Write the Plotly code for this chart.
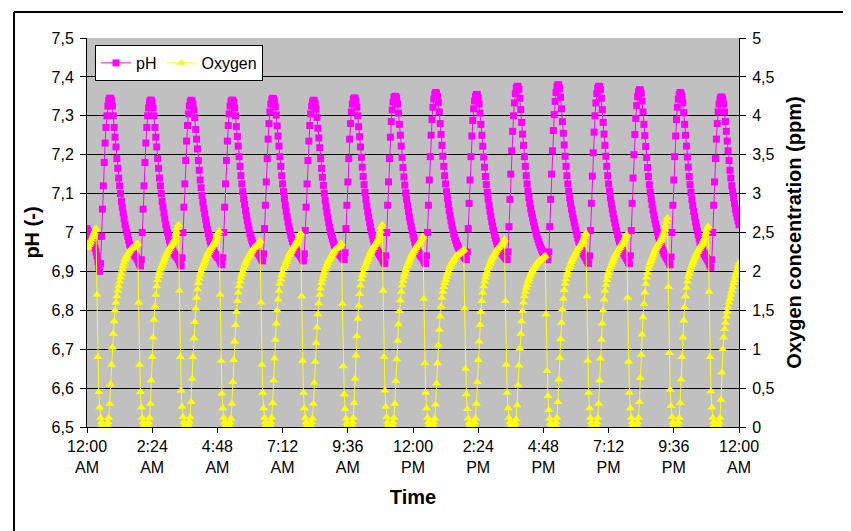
import plotly.graph_objects as go

SAMPLE_MIN = 2  # one reading every 2 minutes, starting at midnight

# pH readings (one line per ~90 min aeration cycle)
ph = [
    7.01, 7.005, 7.0, 6.995, 6.99, 6.985, 6.98, 6.975, 6.97, 6.96, 6.95, 6.94, 6.925, 6.91,
    6.90, 6.92, 6.99, 7.06, 7.12, 7.18, 7.23, 7.27, 7.30, 7.325, 7.34, 7.345, 7.345, 7.34, 7.325, 7.30, 7.27, 7.245, 7.22, 7.19, 7.165, 7.14, 7.12, 7.10, 7.08, 7.065, 7.05, 7.035, 7.02, 7.01, 7.0, 6.99, 6.98, 6.97, 6.965, 6.958, 6.952, 6.947, 6.943, 6.94, 6.937, 6.934, 6.93, 6.924, 6.918,
    6.914, 6.93, 7.0, 7.06, 7.12, 7.18, 7.23, 7.27, 7.30, 7.32, 7.335, 7.34, 7.34, 7.335, 7.32, 7.30, 7.27, 7.245, 7.22, 7.19, 7.165, 7.14, 7.12, 7.10, 7.08, 7.065, 7.05, 7.035, 7.02, 7.01, 7.0, 6.99, 6.98, 6.97, 6.965, 6.958, 6.952, 6.947, 6.943, 6.94, 6.937, 6.934, 6.93, 6.924, 6.918,
    6.914, 6.935, 7.0, 7.065, 7.125, 7.185, 7.235, 7.275, 7.305, 7.325, 7.336, 7.34, 7.338, 7.33, 7.315, 7.295, 7.265, 7.24, 7.215, 7.185, 7.16, 7.135, 7.115, 7.095, 7.078, 7.062, 7.048, 7.033, 7.02, 7.008, 6.998, 6.988, 6.978, 6.97, 6.963, 6.957, 6.952, 6.947, 6.943, 6.94, 6.937, 6.935, 6.932, 6.926, 6.921,
    6.917, 6.935, 7.0, 7.065, 7.125, 7.185, 7.235, 7.275, 7.305, 7.325, 7.337, 7.34, 7.34, 7.335, 7.32, 7.30, 7.272, 7.247, 7.222, 7.195, 7.17, 7.146, 7.125, 7.105, 7.087, 7.072, 7.057, 7.043, 7.03, 7.018, 7.007, 6.997, 6.988, 6.98, 6.973, 6.967, 6.962, 6.957, 6.953, 6.95, 6.947, 6.944, 6.94, 6.935, 6.93,
    6.927, 6.945, 7.01, 7.07, 7.13, 7.19, 7.24, 7.28, 7.31, 7.33, 7.341, 7.345, 7.344, 7.338, 7.323, 7.302, 7.274, 7.248, 7.222, 7.195, 7.17, 7.146, 7.125, 7.105, 7.087, 7.07, 7.055, 7.04, 7.027, 7.015, 7.004, 6.994, 6.985, 6.977, 6.97, 6.964, 6.959, 6.955, 6.951, 6.948, 6.945, 6.942, 6.939, 6.935, 6.93,
    6.927, 6.945, 7.005, 7.065, 7.125, 7.185, 7.235, 7.275, 7.305, 7.325, 7.336, 7.34, 7.339, 7.332, 7.317, 7.296, 7.268, 7.243, 7.218, 7.19, 7.165, 7.142, 7.121, 7.101, 7.083, 7.067, 7.052, 7.038, 7.025, 7.013, 7.002, 6.993, 6.984, 6.976, 6.969, 6.963, 6.958, 6.954, 6.95, 6.947, 6.944, 6.941, 6.938, 6.935, 6.932,
    6.93, 6.948, 7.01, 7.07, 7.13, 7.19, 7.24, 7.28, 7.31, 7.33, 7.342, 7.346, 7.345, 7.338, 7.322, 7.3, 7.272, 7.246, 7.22, 7.193, 7.168, 7.144, 7.123, 7.103, 7.085, 7.068, 7.053, 7.039, 7.026, 7.014, 7.003, 6.993, 6.984, 6.976, 6.969, 6.963, 6.957, 6.952, 6.948, 6.944, 6.94, 6.937, 6.933, 6.927, 6.923,
    6.92, 6.94, 7.0, 7.07, 7.13, 7.19, 7.245, 7.285, 7.315, 7.335, 7.347, 7.35, 7.35, 7.345, 7.33, 7.307, 7.278, 7.25, 7.222, 7.193, 7.167, 7.143, 7.122, 7.102, 7.085, 7.069, 7.054, 7.04, 7.028, 7.016, 7.005, 6.995, 6.985, 6.976, 6.968, 6.961, 6.955, 6.95, 6.946, 6.942, 6.939, 6.936, 6.932, 6.927, 6.923,
    6.92, 6.94, 7.0, 7.07, 7.135, 7.195, 7.25, 7.29, 7.322, 7.343, 7.355, 7.36, 7.358, 7.35, 7.334, 7.31, 7.28, 7.252, 7.224, 7.196, 7.17, 7.146, 7.125, 7.105, 7.088, 7.072, 7.057, 7.043, 7.03, 7.018, 7.007, 6.997, 6.988, 6.98, 6.973, 6.967, 6.962, 6.957, 6.953, 6.949, 6.946, 6.943, 6.94, 6.936, 6.933,
    6.93, 6.95, 7.01, 7.075, 7.135, 7.195, 7.248, 7.288, 7.318, 7.338, 7.35, 7.355, 7.354, 7.346, 7.33, 7.307, 7.278, 7.25, 7.222, 7.194, 7.168, 7.144, 7.123, 7.103, 7.086, 7.07, 7.055, 7.041, 7.028, 7.016, 7.005, 6.995, 6.986, 6.978, 6.971, 6.965, 6.96, 6.955, 6.951, 6.947, 6.944, 6.941, 6.938, 6.935, 6.932,
    6.93, 6.95, 7.015, 7.085, 7.15, 7.21, 7.26, 7.3, 7.333, 7.357, 7.371, 7.376, 7.375, 7.368, 7.345, 7.316, 7.283, 7.253, 7.224, 7.195, 7.17, 7.146, 7.125, 7.106, 7.09, 7.075, 7.061, 7.049, 7.038, 7.027, 7.017, 7.007, 6.998, 6.99, 6.982, 6.975, 6.968, 6.962, 6.956, 6.951, 6.947, 6.944, 6.94, 6.936, 6.933,
    6.93, 6.95, 7.015, 7.085, 7.15, 7.21, 7.262, 7.303, 7.337, 7.36, 7.375, 7.38, 7.379, 7.37, 7.348, 7.318, 7.285, 7.255, 7.225, 7.196, 7.17, 7.146, 7.125, 7.106, 7.089, 7.074, 7.06, 7.048, 7.037, 7.026, 7.015, 7.005, 6.995, 6.986, 6.978, 6.97, 6.963, 6.957, 6.951, 6.946, 6.942, 6.938, 6.934, 6.928, 6.924,
    6.92, 6.94, 7.005, 7.075, 7.145, 7.205, 7.258, 7.3, 7.333, 7.357, 7.371, 7.376, 7.375, 7.367, 7.345, 7.316, 7.283, 7.253, 7.224, 7.196, 7.17, 7.146, 7.125, 7.106, 7.089, 7.074, 7.06, 7.048, 7.036, 7.025, 7.014, 7.004, 6.994, 6.985, 6.977, 6.969, 6.962, 6.956, 6.95, 6.945, 6.941, 6.937, 6.933, 6.928, 6.923,
    6.92, 6.94, 7.005, 7.075, 7.14, 7.2, 7.252, 7.293, 7.326, 7.349, 7.362, 7.367, 7.366, 7.358, 7.338, 7.31, 7.278, 7.249, 7.221, 7.193, 7.167, 7.144, 7.123, 7.104, 7.087, 7.072, 7.058, 7.045, 7.033, 7.022, 7.011, 7.001, 6.991, 6.982, 6.974, 6.967, 6.96, 6.954, 6.948, 6.943, 6.939, 6.935, 6.931, 6.926, 6.921,
    6.917, 6.937, 7.0, 7.07, 7.135, 7.195, 7.248, 7.29, 7.322, 7.343, 7.355, 7.36, 7.358, 7.35, 7.333, 7.308, 7.278, 7.25, 7.222, 7.194, 7.168, 7.144, 7.123, 7.103, 7.085, 7.069, 7.054, 7.04, 7.027, 7.015, 7.004, 6.994, 6.984, 6.975, 6.967, 6.96, 6.954, 6.948, 6.943, 6.939, 6.935, 6.931, 6.927, 6.921, 6.915,
    6.91, 6.93, 7.0, 7.07, 7.13, 7.19, 7.24, 7.28, 7.31, 7.33, 7.343, 7.348, 7.348, 7.343, 7.33, 7.31, 7.285, 7.26, 7.235, 7.21, 7.185, 7.16, 7.14, 7.12, 7.105, 7.09, 7.075, 7.06, 7.05, 7.04, 7.03, 7.02,
]

# Oxygen concentration readings (ppm), same timestamps
oxygen = [
    2.3, 2.32, 2.34, 2.36, 2.38, 2.41, 2.44, 2.47, 2.5, 2.53, 2.55, 1.7, 0.9, 0.45,
    0.25, 0.12, 0.06, 0.03, 0.02, 0.01, 0.01, 0.02, 0.03, 0.06, 0.12, 0.3, 0.55, 0.8, 1.02, 1.2, 1.36, 1.5, 1.6, 1.68, 1.75, 1.81, 1.87, 1.92, 1.97, 2.02, 2.07, 2.11, 2.15, 2.18, 2.2, 2.22, 2.24, 2.26, 2.28, 2.29, 2.3, 2.31, 2.32, 2.33, 2.34, 2.35, 2.36, 1.6, 0.8,
    0.45, 0.25, 0.12, 0.06, 0.03, 0.02, 0.01, 0.02, 0.03, 0.06, 0.12, 0.3, 0.6, 0.9, 1.15, 1.38, 1.55, 1.7, 1.81, 1.89, 1.94, 1.98, 2.02, 2.05, 2.08, 2.11, 2.14, 2.17, 2.2, 2.23, 2.25, 2.27, 2.29, 2.31, 2.33, 2.35, 2.37, 2.39, 2.42, 2.46, 2.51, 2.56, 2.6, 1.75, 0.9,
    0.47, 0.26, 0.13, 0.06, 0.03, 0.02, 0.01, 0.02, 0.04, 0.07, 0.13, 0.32, 0.62, 0.9, 1.14, 1.35, 1.52, 1.66, 1.77, 1.85, 1.91, 1.96, 2.0, 2.04, 2.07, 2.1, 2.13, 2.16, 2.19, 2.22, 2.24, 2.26, 2.28, 2.3, 2.32, 2.34, 2.36, 2.38, 2.4, 2.43, 2.46, 2.49, 2.52, 1.7, 0.85,
    0.43, 0.24, 0.12, 0.06, 0.03, 0.02, 0.01, 0.02, 0.03, 0.06, 0.11, 0.3, 0.58, 0.86, 1.1, 1.31, 1.48, 1.62, 1.73, 1.81, 1.87, 1.92, 1.96, 2.0, 2.04, 2.07, 2.1, 2.13, 2.16, 2.18, 2.2, 2.22, 2.24, 2.26, 2.28, 2.3, 2.31, 2.32, 2.33, 2.34, 2.35, 2.37, 2.39, 1.6, 0.8,
    0.44, 0.24, 0.12, 0.06, 0.03, 0.02, 0.01, 0.02, 0.03, 0.06, 0.12, 0.31, 0.6, 0.88, 1.12, 1.33, 1.5, 1.64, 1.75, 1.84, 1.9, 1.95, 1.99, 2.03, 2.06, 2.09, 2.12, 2.15, 2.18, 2.21, 2.23, 2.25, 2.27, 2.29, 2.31, 2.33, 2.35, 2.37, 2.39, 2.41, 2.44, 2.47, 2.49, 1.68, 0.85,
    0.44, 0.24, 0.12, 0.06, 0.03, 0.02, 0.01, 0.02, 0.03, 0.06, 0.11, 0.3, 0.57, 0.84, 1.08, 1.28, 1.45, 1.59, 1.7, 1.78, 1.85, 1.9, 1.94, 1.98, 2.02, 2.05, 2.08, 2.11, 2.14, 2.16, 2.18, 2.2, 2.22, 2.24, 2.26, 2.28, 2.29, 2.3, 2.31, 2.32, 2.33, 2.35, 2.36, 1.58, 0.78,
    0.42, 0.23, 0.11, 0.05, 0.03, 0.02, 0.01, 0.02, 0.03, 0.06, 0.12, 0.31, 0.62, 0.92, 1.17, 1.39, 1.56, 1.71, 1.82, 1.9, 1.95, 1.99, 2.03, 2.06, 2.09, 2.12, 2.15, 2.18, 2.21, 2.24, 2.26, 2.28, 2.3, 2.32, 2.34, 2.36, 2.38, 2.4, 2.43, 2.47, 2.52, 2.57, 2.6, 1.75, 0.9,
    0.47, 0.26, 0.13, 0.06, 0.03, 0.02, 0.01, 0.02, 0.03, 0.06, 0.12, 0.3, 0.59, 0.87, 1.11, 1.32, 1.49, 1.63, 1.74, 1.82, 1.88, 1.93, 1.97, 2.01, 2.05, 2.08, 2.11, 2.14, 2.17, 2.2, 2.22, 2.24, 2.26, 2.28, 2.3, 2.32, 2.34, 2.36, 2.37, 2.39, 2.41, 2.43, 2.45, 1.65, 0.82,
    0.44, 0.24, 0.12, 0.06, 0.03, 0.02, 0.01, 0.02, 0.03, 0.06, 0.11, 0.29, 0.56, 0.82, 1.05, 1.25, 1.42, 1.55, 1.66, 1.74, 1.8, 1.85, 1.89, 1.93, 1.97, 2.0, 2.03, 2.06, 2.09, 2.11, 2.13, 2.15, 2.17, 2.19, 2.2, 2.21, 2.22, 2.23, 2.24, 2.25, 2.26, 2.27, 2.28, 1.52, 0.75,
    0.42, 0.23, 0.11, 0.05, 0.03, 0.02, 0.01, 0.02, 0.03, 0.06, 0.11, 0.3, 0.58, 0.86, 1.1, 1.31, 1.48, 1.62, 1.73, 1.81, 1.87, 1.92, 1.96, 2.0, 2.04, 2.07, 2.1, 2.13, 2.16, 2.18, 2.2, 2.22, 2.24, 2.26, 2.28, 2.3, 2.31, 2.33, 2.34, 2.35, 2.37, 2.39, 2.41, 1.62, 0.8,
    0.44, 0.24, 0.12, 0.06, 0.03, 0.02, 0.01, 0.02, 0.03, 0.05, 0.1, 0.28, 0.54, 0.79, 1.01, 1.2, 1.36, 1.49, 1.6, 1.68, 1.74, 1.79, 1.83, 1.87, 1.9, 1.93, 1.96, 1.99, 2.01, 2.03, 2.05, 2.07, 2.09, 2.11, 2.12, 2.13, 2.14, 2.15, 2.16, 2.17, 2.18, 2.19, 2.2, 1.45, 0.72,
    0.4, 0.22, 0.11, 0.05, 0.03, 0.02, 0.01, 0.02, 0.03, 0.06, 0.12, 0.32, 0.61, 0.89, 1.13, 1.34, 1.51, 1.65, 1.76, 1.84, 1.9, 1.95, 1.99, 2.03, 2.06, 2.09, 2.12, 2.15, 2.18, 2.2, 2.22, 2.24, 2.26, 2.28, 2.3, 2.32, 2.34, 2.36, 2.38, 2.41, 2.44, 2.47, 2.49, 1.68, 0.85,
    0.44, 0.24, 0.12, 0.06, 0.03, 0.02, 0.01, 0.02, 0.03, 0.06, 0.12, 0.3, 0.6, 0.88, 1.12, 1.33, 1.5, 1.64, 1.75, 1.83, 1.89, 1.94, 1.98, 2.02, 2.05, 2.08, 2.11, 2.14, 2.17, 2.2, 2.22, 2.24, 2.26, 2.28, 2.3, 2.32, 2.34, 2.36, 2.38, 2.4, 2.42, 2.45, 2.47, 1.66, 0.84,
    0.44, 0.24, 0.12, 0.06, 0.03, 0.02, 0.01, 0.02, 0.03, 0.06, 0.12, 0.32, 0.63, 0.93, 1.19, 1.41, 1.58, 1.73, 1.84, 1.92, 1.98, 2.03, 2.07, 2.11, 2.14, 2.17, 2.2, 2.23, 2.26, 2.29, 2.31, 2.33, 2.35, 2.37, 2.39, 2.41, 2.44, 2.47, 2.5, 2.54, 2.59, 2.64, 2.69, 1.8, 0.95,
    0.48, 0.27, 0.13, 0.06, 0.03, 0.02, 0.01, 0.02, 0.03, 0.06, 0.12, 0.31, 0.61, 0.9, 1.15, 1.37, 1.54, 1.68, 1.79, 1.87, 1.93, 1.97, 2.01, 2.05, 2.08, 2.11, 2.14, 2.17, 2.2, 2.23, 2.25, 2.27, 2.29, 2.31, 2.33, 2.35, 2.37, 2.4, 2.43, 2.47, 2.51, 2.55, 2.58, 1.74, 0.9,
    0.46, 0.25, 0.12, 0.06, 0.03, 0.02, 0.01, 0.02, 0.03, 0.06, 0.12, 0.35, 0.7, 1.0, 1.15, 1.26, 1.34, 1.42, 1.48, 1.54, 1.6, 1.65, 1.7, 1.75, 1.8, 1.85, 1.89, 1.94, 1.98, 2.02, 2.07, 2.11,
]

# timestamps in hours after midnight
time_h = [i * SAMPLE_MIN / 60 for i in range(len(ph))]

x_tickvals = [0, 2.4, 4.8, 7.2, 9.6, 12, 14.4, 16.8, 19.2, 21.6, 24]
x_ticktext = ["12:00<br>AM", "2:24<br>AM", "4:48<br>AM", "7:12<br>AM", "9:36<br>AM",
              "12:00<br>PM", "2:24<br>PM", "4:48<br>PM", "7:12<br>PM", "9:36<br>PM",
              "12:00<br>AM"]
ph_tickvals = [6.5, 6.6, 6.7, 6.8, 6.9, 7.0, 7.1, 7.2, 7.3, 7.4, 7.5]
ph_ticktext = ["6,5", "6,6", "6,7", "6,8", "6,9", "7", "7,1", "7,2", "7,3", "7,4", "7,5"]
o2_tickvals = [0, 0.5, 1, 1.5, 2, 2.5, 3, 3.5, 4, 4.5, 5]
o2_ticktext = ["0", "0,5", "1", "1,5", "2", "2,5", "3", "3,5", "4", "4,5", "5"]

FONT = "Liberation Sans, Arial, sans-serif"

fig = go.Figure()
fig.add_trace(go.Scatter(
    x=time_h, y=ph, name="pH", mode="lines+markers",
    line=dict(color="#FF00FF", width=1),
    marker=dict(symbol="square", size=7, color="#FF00FF"),
    yaxis="y",
))
fig.add_trace(go.Scatter(
    x=time_h, y=oxygen, name="Oxygen", mode="lines+markers",
    line=dict(color="#FFFF00", width=1),
    marker=dict(symbol="triangle-up", size=8, color="#FFFF00"),
    yaxis="y2",
))

L, R, T, B = 79, 731, 30, 419
W, H = 851, 531
pw, ph_px = R - L, B - T

fig.update_layout(
    width=W, height=H,
    margin=dict(l=L, r=W - R, t=T, b=H - B, pad=0),
    paper_bgcolor="white",
    plot_bgcolor="#C0C0C0",
    font=dict(family=FONT, size=16, color="black"),
    showlegend=True,
    legend=dict(
        orientation="h", x=(87 - L) / pw, y=1 - (37 - T) / ph_px,
        xanchor="left", yanchor="top",
        bgcolor="white", bordercolor="black", borderwidth=1,
        font=dict(size=16), itemwidth=30, tracegroupgap=0,
    ),
    xaxis=dict(
        range=[0, 24], tickvals=x_tickvals, ticktext=x_ticktext,
        showgrid=False, zeroline=False,
        showline=True, linecolor="black", linewidth=1,
        ticks="outside", ticklen=5, tickcolor="black",
        title=dict(text="<b>Time</b>", font=dict(size=20), standoff=14),
    ),
    yaxis=dict(
        range=[6.5, 7.5], tickvals=ph_tickvals, ticktext=ph_ticktext,
        showgrid=True, gridcolor="black", gridwidth=1, zeroline=False,
        showline=True, linecolor="black", linewidth=1,
        ticks="outside", ticklen=6, tickcolor="black", ticklabelstandoff=3,
        title=dict(text="<b>pH (-)</b>", font=dict(size=20), standoff=6),
    ),
    yaxis2=dict(
        range=[0, 5], tickvals=o2_tickvals, ticktext=o2_ticktext,
        overlaying="y", side="right", anchor="x",
        showgrid=False, zeroline=False,
        showline=True, linecolor="black", linewidth=1,
        ticks="outside", ticklen=6, tickcolor="black", ticklabelstandoff=3,
        title=dict(text="<b>Oxygen concentration (ppm)</b>", font=dict(size=20), standoff=13),
    ),
    shapes=[
        dict(type="line", xref="paper", yref="paper",
             x0=(6 - L) / pw, x1=(6 - L) / pw, y0=1 + (T - 4) / ph_px, y1=-2,
             line=dict(color="black", width=2)),
        dict(type="line", xref="paper", yref="paper",
             x0=(6 - L) / pw, x1=2, y0=1 + (T - 4) / ph_px, y1=1 + (T - 4) / ph_px,
             line=dict(color="black", width=2)),
    ],
)

fig.write_html("out.html")
